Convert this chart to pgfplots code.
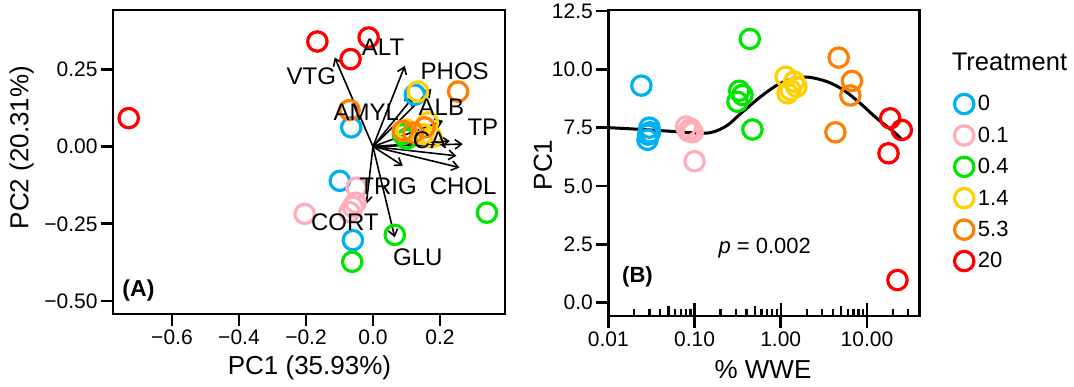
\documentclass[border=0pt]{standalone}
\usepackage{fontspec}
\setmainfont{Liberation Sans}
\usepackage{pgfplots}
\pgfplotsset{compat=1.18}
\usetikzlibrary{arrows.meta}

\definecolor{c0}{RGB}{0,176,240}
\definecolor{c01}{RGB}{255,174,185}
\definecolor{c04}{RGB}{0,230,0}
\definecolor{c14}{RGB}{255,208,0}
\definecolor{c53}{RGB}{255,128,0}
\definecolor{c20}{RGB}{255,0,0}

\pgfplotsset{
  base/.style={scale only axis, anchor=south west,
    axis line style={line width=2.6pt},
    every tick/.style={line width=2.6pt, black},
    tick align=outside, tick pos=left,
    major tick length=12pt,
    tick label style={font=\fontsize{21}{21}\selectfont},
    clip=false},
  pts/.style={only marks, mark=o, mark size=9.7pt, mark options={line width=3.2pt}},
  arr/.style={black, line width=1.6pt, -{Straight Barb[length=6.5pt,width=9.5pt]}}
}

\begin{document}
\begin{tikzpicture}
\path (0pt,0pt) rectangle (1074pt,387pt);

% ---------------- Panel A ----------------
\begin{axis}[base, at={(113pt,73pt)}, width=392pt, height=304pt,
  xmin=-0.776, xmax=0.394, ymin=-0.542, ymax=0.442,
  xtick={-0.6,-0.4,-0.2,0,0.2}, xticklabels={−0.6,−0.4,−0.2,0.0,0.2},
  ytick={-0.5,-0.25,0,0.25}, yticklabels={−0.50,−0.25,0.00,0.25}]
\addplot[pts, c0] coordinates {(0.125,0.168) (-0.065,0.062) (-0.099,-0.111) (-0.060,-0.303)};
\addplot[pts, c01] coordinates {(-0.204,-0.218) (-0.049,-0.133) (-0.060,-0.195) (-0.070,-0.212) (-0.052,-0.182)};
\addplot[pts, c04] coordinates {(0.340,-0.214) (0.065,-0.286) (-0.062,-0.373) (0.089,0.040) (0.100,0.025)};
\addplot[pts, c14] coordinates {(0.134,0.178) (0.100,0.055) (0.164,0.078) (0.175,0.030) (0.150,0.040)};
\addplot[pts, c53] coordinates {(0.254,0.178) (-0.070,0.118) (0.089,0.051) (0.154,0.062) (0.120,0.045)};
\addplot[pts, c20] coordinates {(-0.729,0.092) (-0.166,0.340) (-0.013,0.353) (-0.067,0.283)};
% loadings
\addplot[arr] coordinates {(0,0) (-0.114,0.288)};
\addplot[arr] coordinates {(0,0) (0.095,0.261)};
\addplot[arr] coordinates {(0,0) (0.174,0.186)};
\addplot[arr] coordinates {(0,0) (0.119,0.159)};
\addplot[arr] coordinates {(0,0) (0.209,0.083)};
\addplot[arr] coordinates {(0,0) (0.229,0.018)};
\addplot[arr] coordinates {(0,0) (0.268,0.008)};
\addplot[arr] coordinates {(0,0) (0.249,-0.030)};
\addplot[arr] coordinates {(0,0) (0.258,-0.068)};
\addplot[arr] coordinates {(0,0) (0.089,-0.062)};
\addplot[arr] coordinates {(0,0) (-0.020,-0.186)};
\addplot[arr] coordinates {(0,0) (0.065,-0.294)};
% loading labels
\addplot[only marks, mark=none, point meta=explicit symbolic, nodes near coords,
  nodes near coords style={anchor=center, inner sep=0pt, text=black, font=\fontsize{24}{24}\selectfont}]
  table[meta=label] {
x y label
-0.184 0.229 VTG
0.030 0.320 ALT
0.244 0.245 PHOS
-0.020 0.112 AMYL
0.204 0.128 ALB
0.328 0.064 TP
0.169 0.021 CA
0.269 -0.127 CHOL
0.045 -0.130 TRIG
-0.084 -0.244 CORT
0.134 -0.357 GLU
};
\node[font=\bfseries\fontsize{23}{23}\selectfont] at (axis cs:-0.70,-0.465) {(A)};
\end{axis}
\node[font=\fontsize{26}{26}\selectfont] at (309.5pt,19pt) {PC1 (35.93\%)};
\node[font=\fontsize{26}{26}\selectfont, rotate=90] at (21.7pt,239.5pt) {PC2 (20.31\%)};

% ---------------- Panel B ----------------
\begin{axis}[base, xmode=log, at={(608.3pt,71pt)}, width=311pt, height=306pt,
  xmin=0.01, xmax=40.5, ymin=-0.57, ymax=12.54,
  xtick={0.01,0.1,1,10}, xticklabels={0.01,0.10,1.00,10.00},
  xminorticks=false,
  ytick={0,2.5,5,7.5,10,12.5}, yticklabels={0.0,2.5,5.0,7.5,10.0,12.5},
  legend style={at={(1.1126,0.725)}, anchor=north west, draw=none, fill=none,
    font=\fontsize{22}{22}\selectfont, row sep=12pt, inner xsep=0pt, inner ysep=0pt,
    nodes={inner ysep=1pt, inner xsep=4pt}},
  legend cell align=left,
  legend image code/.code={\draw[mark repeat=2,mark phase=2,#1, mark size=9.7pt, mark options={line width=3.2pt}] plot coordinates {(0pt,0pt) (10pt,0pt) (32pt,0pt)};}]
\addplot[pts, c0] coordinates {(0.0242,9.30) (0.0300,7.50) (0.0305,7.30) (0.0290,7.20) (0.0285,6.98)};
\addlegendentry{0}
\addplot[pts, c01] coordinates {(0.080,7.55) (0.090,7.45) (0.085,7.35) (0.095,7.30) (0.100,6.06)};
\addlegendentry{0.1}
\addplot[pts, c04] coordinates {(0.438,11.30) (0.330,9.08) (0.360,8.90) (0.315,8.61) (0.470,7.42)};
\addlegendentry{0.4}
\addplot[pts, c14] coordinates {(1.14,9.68) (1.43,9.47) (1.30,9.11) (1.52,9.25) (1.20,8.97)};
\addlegendentry{1.4}
\addplot[pts, c53] coordinates {(4.70,10.50) (6.71,9.50) (6.42,8.88) (4.31,7.30)};
\addlegendentry{5.3}
\addplot[pts, c20] coordinates {(18.6,7.90) (25.4,7.40) (17.8,6.40) (22.6,0.97)};
\addlegendentry{20}
\addplot[black, line width=3pt, smooth, forget plot] coordinates {
  (0.0100,7.50) (0.0200,7.44) (0.0412,7.37) (0.119,7.26) (0.170,7.33) (0.243,7.61)
  (0.345,8.11) (0.587,8.83) (0.916,9.33) (1.42,9.61) (2.12,9.66) (3.45,9.47)
  (5.37,9.11) (8.37,8.54) (13.0,7.90) (20.3,7.33) (25.3,7.00)};
\node[font=\fontsize{22}{22}\selectfont] at (axis cs:0.653,2.33) {\textit{p} = 0.002};
\node[font=\bfseries\fontsize{22}{22}\selectfont] at (axis cs:0.0218,1.11) {(B)};
\node[font=\fontsize{25.5}{25.5}\selectfont, anchor=west, inner sep=0pt] at (rel axis cs:1.104,0.830) {Treatment};
\end{axis}
% rug-style log ticks inside panel B
\begin{axis}[scale only axis, anchor=south west, at={(608.3pt,71pt)}, width=311pt, height=306pt,
  xmode=log, xmin=0.01, xmax=40.5, ymin=0, ymax=1,
  axis line style={draw=none}, ytick=\empty,
  xtick={0.1,1,10}, xticklabels={}, xtick pos=bottom,
  minor xtick={0.02,0.03,0.04,0.06,0.07,0.08,0.09,0.2,0.3,0.4,0.6,0.7,0.8,0.9,2,3,4,6,7,8,9,20,30},
  extra x ticks={0.05,0.5,5}, extra x tick labels={},
  extra x tick style={major tick length=9.5pt},
  tick align=inside, major tick length=12.5pt, minor tick length=7pt,
  every tick/.style={line width=2.2pt, black}]
\addplot[draw=none, forget plot] coordinates {(0.01,0) (40,1)};
\end{axis}
\node[font=\fontsize{26}{26}\selectfont] at (763pt,17pt) {\% WWE};
\node[font=\fontsize{26}{26}\selectfont, rotate=90] at (543pt,222pt) {PC1};
\end{tikzpicture}
\end{document}
